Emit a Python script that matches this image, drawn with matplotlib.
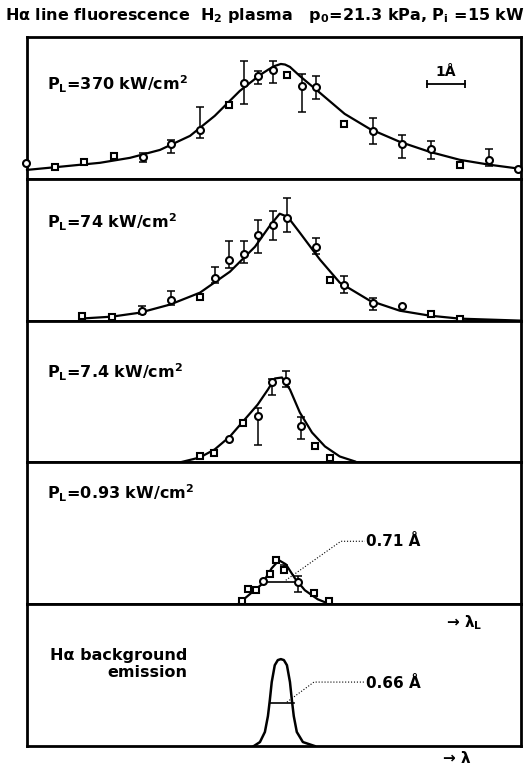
import numpy as np
import matplotlib
matplotlib.use("Agg")
import matplotlib.pyplot as plt

plt.rcParams['font.family'] = ['DejaVu Sans']
plt.rcParams['mathtext.default'] = 'regular'

# wavelength offset from line centre (Angstrom), intensities in arbitrary units
# --- P_L = 370 kW/cm2 ---
p1_x = [-6.71, -5.95, -5.18, -4.39, -3.63, -2.89, -2.13, -1.37, -0.97, -0.61, -0.21,
        0.16, 0.55, 0.92, 1.66, 2.42, 3.18, 3.95, 4.71, 5.47, 6.24]
p1_y = [0.113, 0.085, 0.120, 0.162, 0.155, 0.246, 0.345, 0.521, 0.676, 0.725, 0.768,
        0.732, 0.655, 0.648, 0.387, 0.338, 0.246, 0.211, 0.099, 0.134, 0.070]
p1_m = ['o', 's', 's', 's', 'o', 'o', 'o', 's', 'o', 'o', 'o',
        's', 'o', 'o', 's', 'o', 'o', 'o', 's', 'o', 'o']
p1_hi = [None, None, None, None, 0.183, 0.275, 0.507, None, 0.831, 0.761, 0.831,
         None, 0.739, 0.725, None, 0.430, 0.310, 0.268, None, 0.211, None]
p1_lo = [None, None, None, None, 0.120, 0.183, 0.289, None, 0.528, 0.669, 0.676,
         None, 0.472, 0.563, None, 0.246, 0.148, 0.141, None, 0.092, None]
c1_x = [-6.68, -5.82, -4.76, -3.97, -3.18, -2.39, -1.74, -1.08, -0.55, -0.32, -0.16,
        0.0, 0.11, 0.24, 0.50, 1.03, 1.68, 2.34, 3.13, 3.92, 4.71, 5.50, 6.32]
c1_y = [0.063, 0.085, 0.113, 0.148, 0.204, 0.303, 0.444, 0.620, 0.732, 0.772, 0.796,
        0.810, 0.806, 0.789, 0.725, 0.606, 0.458, 0.352, 0.261, 0.190, 0.134, 0.099,
        0.070]

# --- P_L = 74 kW/cm2 ---
p2_x = [-5.24, -4.45, -3.66, -2.89, -2.13, -1.74, -1.37, -0.97, -0.61, -0.21, 0.16,
        0.92, 1.29, 1.66, 2.42, 3.18, 3.95, 4.71]
p2_y = [0.035, 0.028, 0.070, 0.148, 0.169, 0.303, 0.430, 0.472, 0.606, 0.676, 0.725,
        0.521, 0.289, 0.254, 0.127, 0.106, 0.049, 0.014]
p2_m = ['s', 's', 'o', 'o', 's', 'o', 'o', 'o', 'o', 'o', 'o',
        'o', 's', 'o', 'o', 'o', 's', 's']
p2_hi = [None, None, 0.106, 0.211, None, 0.380, 0.563, 0.563, 0.711, 0.775, 0.866,
         0.585, None, 0.317, 0.162, None, None, None]
p2_lo = [None, None, 0.049, 0.113, None, 0.268, 0.373, 0.408, 0.479, 0.570, 0.627,
         0.472, None, 0.197, 0.077, None, None, None]
c2_x = [-5.29, -4.45, -3.71, -2.92, -2.13, -1.34, -0.68, -0.29, -0.03, 0.18, 0.50,
        1.03, 1.55, 2.34, 3.13, 3.92, 4.71, 6.32]
c2_y = [0.014, 0.028, 0.056, 0.113, 0.197, 0.345, 0.521, 0.669, 0.754, 0.732, 0.620,
        0.430, 0.268, 0.141, 0.070, 0.035, 0.014, 0.0]

# --- P_L = 7.4 kW/cm2 ---
p3_x = [-2.13, -1.76, -1.37, -1.00, -0.61, -0.24, 0.13, 0.53, 0.89, 1.29]
p3_y = [0.042, 0.063, 0.162, 0.275, 0.324, 0.570, 0.577, 0.254, 0.113, 0.028]
p3_m = ['s', 's', 'o', 's', 'o', 'o', 'o', 'o', 's', 's']
p3_hi = [None, None, None, None, 0.387, 0.585, 0.648, 0.317, None, None]
p3_lo = [None, None, None, None, 0.120, 0.479, 0.535, 0.162, None, None]
c3_x = [-2.66, -2.13, -1.74, -1.34, -0.95, -0.61, -0.34, -0.16, 0.03, 0.24, 0.50,
        0.82, 1.16, 1.55, 1.95]
c3_y = [0.0, 0.035, 0.092, 0.183, 0.303, 0.408, 0.514, 0.592, 0.599, 0.514, 0.352,
        0.211, 0.113, 0.042, 0.007]

# --- P_L = 0.93 kW/cm2 ---
p4_x = [-1.03, -0.87, -0.66, -0.47, -0.29, -0.13, 0.08, 0.45, 0.87, 1.26]
p4_y = [0.021, 0.106, 0.099, 0.162, 0.211, 0.310, 0.239, 0.155, 0.077, 0.021]
p4_m = ['s', 's', 's', 'o', 's', 's', 's', 'o', 's', 's']
p4_hi = [None, None, None, None, None, None, 0.275, 0.197, None, None]
p4_lo = [None, None, None, None, None, None, 0.218, 0.085, None, None]
c4_x = [-1.13, -0.82, -0.50, -0.24, -0.05, 0.13, 0.37, 0.63, 0.97, 1.29]
c4_y = [0.0, 0.070, 0.141, 0.254, 0.310, 0.282, 0.183, 0.099, 0.035, 0.0]
fwhm4 = (-0.34, 0.39, 0.155)

# --- H-alpha background emission ---
c5_x = [-0.71, -0.55, -0.42, -0.34, -0.29, -0.24, -0.16, -0.08, 0.0, 0.08, 0.16,
        0.24, 0.29, 0.34, 0.42, 0.58, 0.89]
c5_y = [0.0, 0.028, 0.099, 0.211, 0.324, 0.451, 0.570, 0.606, 0.613, 0.606, 0.570,
        0.451, 0.324, 0.211, 0.099, 0.028, 0.0]
fwhm5 = (-0.29, 0.34, 0.303)

labels = [r'P$_L$=370 kW/cm$^2$', r'P$_L$=74 kW/cm$^2$', r'P$_L$=7.4 kW/cm$^2$',
          r'P$_L$=0.93 kW/cm$^2$']
label_y = [0.67, 0.69, 0.634, 0.78]

fig, axes = plt.subplots(5, 1, figsize=(5.3, 7.65), dpi=100, sharex=True,
                         gridspec_kw={'hspace': 0})
fig.subplots_adjust(left=0.051, right=0.983, top=0.9516, bottom=0.0248)

panels = [(p1_x, p1_y, p1_m, p1_hi, p1_lo, c1_x, c1_y),
          (p2_x, p2_y, p2_m, p2_hi, p2_lo, c2_x, c2_y),
          (p3_x, p3_y, p3_m, p3_hi, p3_lo, c3_x, c3_y),
          (p4_x, p4_y, p4_m, p4_hi, p4_lo, c4_x, c4_y)]

for ax in axes:
    ax.set_xlim(-6.68, 6.32)
    ax.set_ylim(0, 1)
    ax.set_xticks([])
    ax.set_yticks([])
    for s in ax.spines.values():
        s.set_linewidth(2)
        s.set_color('black')

for i, (px, py, pm, phi, plo, cx, cy) in enumerate(panels):
    ax = axes[i]
    ax.plot(cx, cy, color='black', lw=1.6, zorder=2, clip_on=False,
            solid_joinstyle='round')
    for x, y, m, hi, lo in zip(px, py, pm, phi, plo):
        if hi is not None:
            ax.errorbar([x], [y], yerr=[[y - lo], [hi - y]], fmt='none',
                        ecolor='black', elinewidth=1.1, capsize=3, capthick=1.1,
                        zorder=3)
        ax.plot([x], [y], marker=m, ms=5 if m == 'o' else 4.2, mfc='white',
                mec='black', mew=1.5, ls='none', zorder=4, clip_on=False)
    ax.text(-6.15, label_y[i], labels[i], fontsize=11.5, fontweight='bold',
            va='center', ha='left')

# scale bar in the first panel
axes[0].plot([3.84, 4.84], [0.67, 0.67], color='black', lw=1.3,
             marker='|', ms=6, mew=1.3)
axes[0].text(4.34, 0.705, '1Å', fontsize=10, fontweight='bold',
             ha='center', va='bottom')

# FWHM marks and annotations
ax = axes[3]
ax.plot([fwhm4[0], fwhm4[1]], [fwhm4[2], fwhm4[2]], color='black', lw=1.2)
ax.plot([0.13, 1.58, 2.21], [0.169, 0.444, 0.444], color='black', lw=0.8, ls=':')
ax.text(2.24, 0.444, '0.71 Å', fontsize=11, fontweight='bold', va='center')

ax = axes[4]
ax.plot(c5_x, c5_y, color='black', lw=1.8, zorder=2, solid_joinstyle='round')
ax.plot([fwhm5[0], fwhm5[1]], [fwhm5[2], fwhm5[2]], color='black', lw=1.2)
ax.plot([0.16, 0.87, 2.21], [0.31, 0.451, 0.451], color='black', lw=0.8, ls=':')
ax.text(2.24, 0.444, '0.66 Å', fontsize=11, fontweight='bold', va='center')
ax.text(-2.45, 0.58, 'Hα background\nemission', fontsize=11.5, fontweight='bold',
        ha='right', va='center', multialignment='right')
ax.text(4.35, 0.87, r'→ λ$_L$', fontsize=11, fontweight='bold', va='center')
fig.text(0.835, 0.009, '→ λ', fontsize=11, fontweight='bold', va='center')

fig.text(0.01, 0.98, r'Hα line fluorescence  H$_2$ plasma   p$_0$=21.3 kPa, P$_i$ =15 kW',
         fontsize=11.5, fontweight='bold', va='center', ha='left')

fig.savefig('out.png', dpi=100)
